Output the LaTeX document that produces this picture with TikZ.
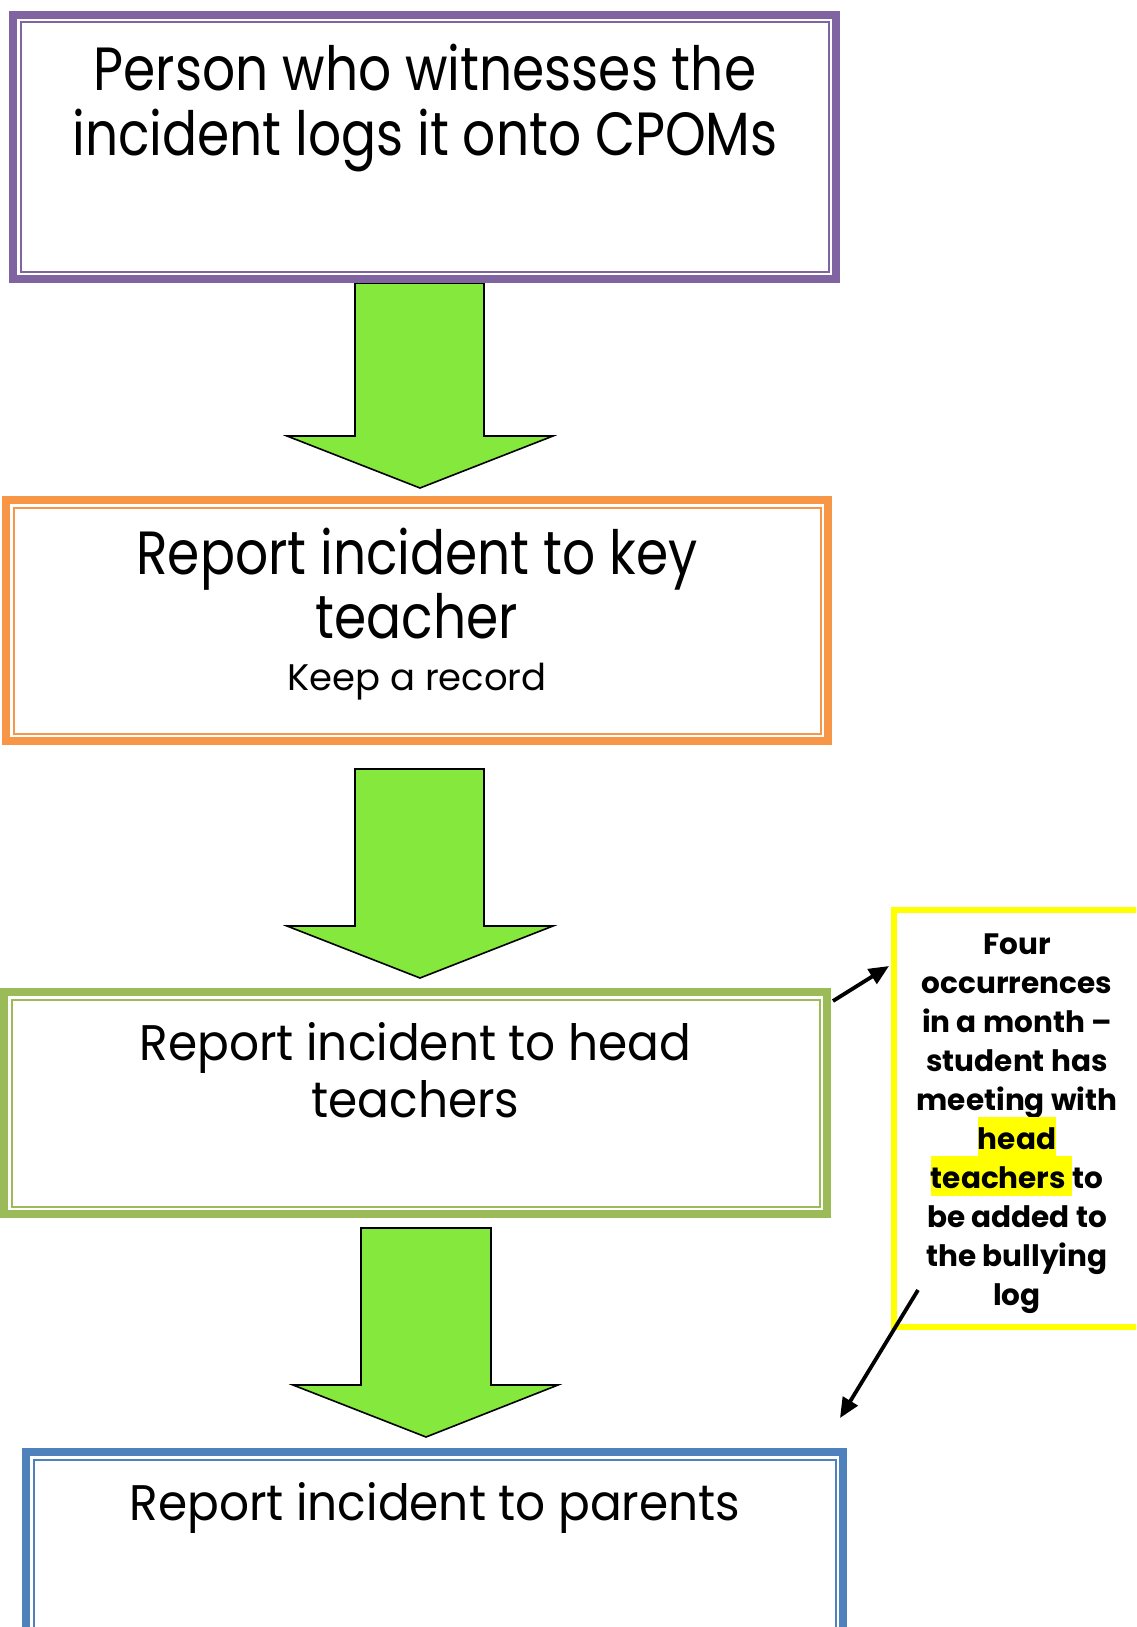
\documentclass[tikz,border=0pt]{standalone}
\usepackage{fontspec}
\setmainfont{Poppins}
\newfontfamily\bigfam{Poppins}[FakeStretch=0.85]
\newfontfamily\midfam{Poppins}[FakeStretch=0.94]
\usetikzlibrary{arrows.meta}
\definecolor{purp}{HTML}{8064A2}
\definecolor{oran}{HTML}{F79646}
\definecolor{olgr}{HTML}{9BBB59}
\definecolor{blu}{HTML}{4F81BD}
\definecolor{arrgreen}{HTML}{85E83D}
\definecolor{hlyellow}{HTML}{FFFF00}
\newcommand\hlmark[1]{{\setlength\fboxsep{0pt}\colorbox{hlyellow}{\rule[-8pt]{0pt}{40pt}#1}}}
\tikzset{
  bandbox/.style={draw=#1, line width=8pt, minimum width=0pt, inner sep=0pt, outer sep=0pt, rectangle},
  thinline/.style={draw=#1, line width=2pt},
  blockarrow/.style={fill=arrgreen, draw=black, line width=1.6pt, line join=miter},
  bigtext/.style={font=\bigfam\fontsize{61}{70}\selectfont, inner sep=0pt, anchor=base},
  midtext/.style={font=\midfam\fontsize{50}{58}\selectfont, inner sep=0pt, anchor=base},
  smalltext/.style={font=\fontsize{37}{44}\selectfont, inner sep=0pt, anchor=base},
  notetext/.style={font=\bfseries\fontsize{29.5}{39}\selectfont, inner sep=0pt, anchor=base},
  conn/.style={draw=black, line width=3.8pt, -{Triangle[length=20pt,width=17pt]}}
}
\begin{document}
\begin{tikzpicture}[x=1pt,y=-1pt]
\useasboundingbox (0,0) rectangle (1136,1627);
\clip (0,0) rectangle (1136,1627);

% block arrows
\draw[blockarrow] (355,283) -- (484,283) -- (484,436) -- (553,436) -- (420,488) -- (287,436) -- (355,436) -- cycle;
\draw[blockarrow] (355,769) -- (484,769) -- (484,926) -- (553,926) -- (420,978) -- (287,926) -- (355,926) -- cycle;
\draw[blockarrow] (361,1228) -- (491,1228) -- (491,1385) -- (558,1385) -- (426,1437) -- (293,1385) -- (361,1385) -- cycle;

% box 1
\node[bandbox=purp, minimum width=823pt, minimum height=264pt] (b1) at (424.5,147) {};
\draw[thinline=purp] ([xshift=7.5pt,yshift=-7.5pt]b1.north west) rectangle ([xshift=-7.5pt,yshift=7.5pt]b1.south east);
\node[bigtext] (t1a) at (425,91) {Person who witnesses the};
\node[bigtext] (t1b) at (425,156) {incident logs it onto CPOMs};

% box 2
\node[bandbox=oran, minimum width=822pt, minimum height=241pt] (b2) at (417,620.5) {};
\draw[thinline=oran] ([xshift=7.5pt,yshift=-7.5pt]b2.north west) rectangle ([xshift=-7.5pt,yshift=7.5pt]b2.south east);
\node[bigtext] (t2a) at (417,574) {Report incident to key};
\node[bigtext] (t2b) at (417,638) {teacher};
\node[smalltext] (t2c) at (417,690) {Keep a record};

% box 3
\node[bandbox=olgr, minimum width=823pt, minimum height=222pt] (b3) at (415.5,1103) {};
\draw[thinline=olgr] ([xshift=7.5pt,yshift=-7.5pt]b3.north west) rectangle ([xshift=-7.5pt,yshift=7.5pt]b3.south east);
\node[midtext] (t3a) at (415.5,1060) {Report incident to head};
\node[midtext] (t3b) at (415.5,1117) {teachers};

% box 4
\node[bandbox=blu, minimum width=817pt, minimum height=208pt] (b4) at (434.5,1556) {};
\draw[thinline=blu] ([xshift=7.5pt,yshift=-7.5pt]b4.north west) rectangle ([xshift=-7.5pt,yshift=7.5pt]b4.south east);
\node[midtext] (t4a) at (435,1520) {Report incident to parents};

% yellow note box
\node[draw=hlyellow, line width=6pt, minimum width=246pt, minimum height=417pt, inner sep=0pt, outer sep=0pt] (nb) at (1017,1118.5) {};
\node[notetext] (n1) at (1017,954) {Four};
\node[notetext] (n2) at (1017,993) {occurrences};
\node[notetext] (n3) at (1017,1032) {in a month –};
\node[notetext] (n4) at (1017,1071) {student has};
\node[notetext] (n5) at (1017,1110) {meeting with};
\node[notetext] (n6) at (1017,1149) {\hlmark{head}};
\node[notetext] (n7) at (1017,1188) {\hlmark{teachers }to};
\node[notetext] (n8) at (1017,1227) {be added to};
\node[notetext] (n9) at (1017,1266) {the bullying};
\node[notetext] (n10) at (1017,1305) {log};

% connectors
\coordinate (c1s) at (833,1001);
\coordinate (c1e) at (889,966);
\coordinate (c2s) at (918,1290);
\coordinate (c2e) at (840,1418);
\draw[conn] (c1s) -- (c1e);
\draw[conn] (c2s) -- (c2e);
\end{tikzpicture}
\end{document}
